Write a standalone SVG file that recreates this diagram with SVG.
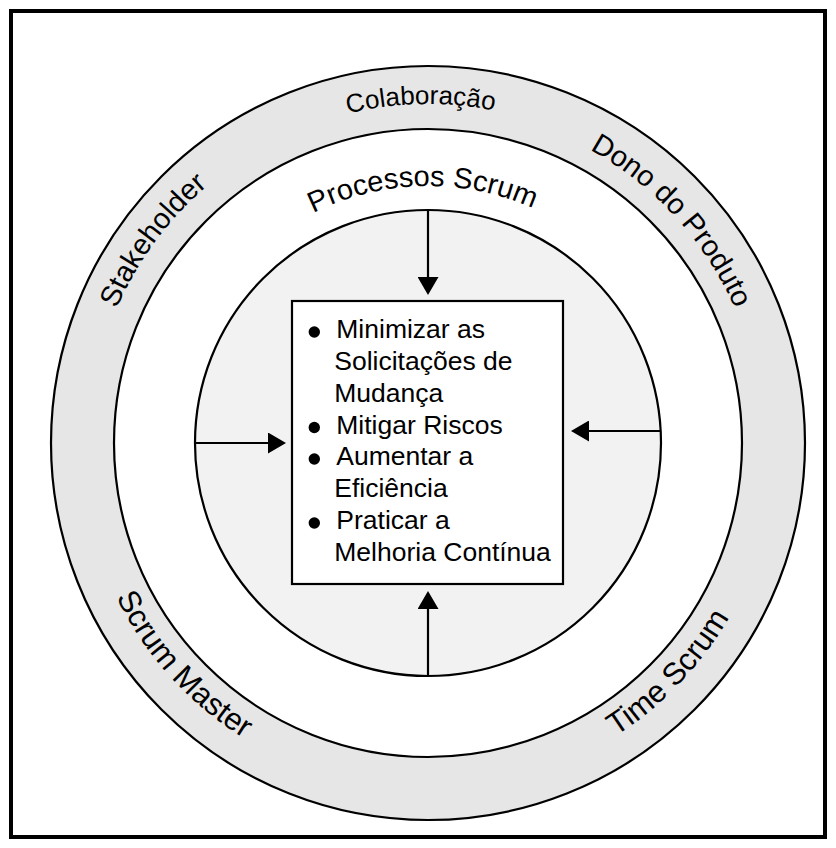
<svg xmlns="http://www.w3.org/2000/svg" width="836" height="848" viewBox="0 0 836 848">
  <style>
    .ring { stroke: #000; stroke-width: 2.2; }
    .lbl { font-family: "Liberation Sans", Arial, sans-serif; fill: #000; text-anchor: middle; }
    .item { font-family: "Liberation Sans", Arial, sans-serif; font-size: 26.5px; fill: #000; }
    .conn { stroke: #000; stroke-width: 2.2; fill: none; }
  </style>
  <defs>
    <path id="cw339" d="M428,782 A339,339 0 0 1 428,104 A339,339 0 0 1 428,782" fill="none"/>
    <path id="cw335" d="M428,778 A335,335 0 0 1 428,108 A335,335 0 0 1 428,778" fill="none"/>
    <path id="cw257" d="M428,700 A257,257 0 0 1 428,186 A257,257 0 0 1 428,700" fill="none"/>
    <path id="ccw348" d="M428,95 A348,348 0 0 0 428,791 A348,348 0 0 0 428,95" fill="none"/>
    <marker id="ah" viewBox="0 0 18 21" refX="1" refY="10.5" markerWidth="18" markerHeight="21" markerUnits="userSpaceOnUse" orient="auto">
      <path d="M0,0 L18,10.5 L0,21 Z" fill="#000"/>
    </marker>
  </defs>

  <rect id="frame" x="11" y="11" width="814" height="826" fill="#fff" stroke="#000" stroke-width="4"/>

  <g id="outer-ring">
    <circle class="ring" cx="428" cy="443" r="377" fill="#e6e6e6"/>
  </g>
  <g id="middle-ring">
    <circle class="ring" cx="428" cy="443" r="314" fill="#fff"/>
  </g>
  <g id="inner-circle">
    <circle class="ring" cx="428" cy="443" r="233" fill="#f2f2f2"/>
  </g>

  <g id="label-colaboracao">
    <text class="lbl" font-size="26" transform="rotate(-1.2 428 443)"><textPath href="#cw339" startOffset="50%">Colaboração</textPath></text>
  </g>
  <g id="label-stakeholder">
    <text class="lbl" font-size="29" transform="rotate(-53.6 428 443)"><textPath href="#cw339" startOffset="50%">Stakeholder</textPath></text>
  </g>
  <g id="label-dono">
    <text class="lbl" font-size="29" transform="rotate(47.6 428 443)"><textPath href="#cw335" startOffset="50%">Dono do Produto</textPath></text>
  </g>
  <g id="label-scrum-master">
    <text class="lbl" font-size="31" transform="rotate(47.8 428 443)"><textPath href="#ccw348" startOffset="50%">Scrum Master</textPath></text>
  </g>
  <g id="label-time-scrum">
    <text class="lbl" font-size="31" transform="rotate(-46.3 428 443)"><textPath href="#ccw348" startOffset="50%">Time Scrum</textPath></text>
  </g>
  <g id="label-processos">
    <text class="lbl" font-size="29" transform="rotate(-1.2 428 443)"><textPath href="#cw257" startOffset="50%">Processos Scrum</textPath></text>
  </g>

  <g id="goals-box">
    <rect x="292" y="301" width="271" height="283" fill="#fff" stroke="#000" stroke-width="2.2"/>
    <circle cx="314.3" cy="332" r="5.7" fill="#000"/>
    <circle cx="314.3" cy="427.5" r="5.7" fill="#000"/>
    <circle cx="314.3" cy="459" r="5.7" fill="#000"/>
    <circle cx="314.3" cy="523" r="5.7" fill="#000"/>
    <text class="item" x="336.3" y="338">Minimizar as</text>
    <text class="item" x="334.3" y="370">Solicitações de</text>
    <text class="item" x="334.3" y="401.5">Mudança</text>
    <text class="item" x="336.3" y="433.5">Mitigar Riscos</text>
    <text class="item" x="336.3" y="465">Aumentar a</text>
    <text class="item" x="334.3" y="497">Eficiência</text>
    <text class="item" x="336.3" y="529">Praticar a</text>
    <text class="item" x="334.3" y="561">Melhoria Contínua</text>
  </g>

  <g id="connectors">
    <line class="conn" x1="428" y1="211" x2="428" y2="278" marker-end="url(#ah)"/>
    <line class="conn" x1="428" y1="676" x2="428" y2="608" marker-end="url(#ah)"/>
    <line class="conn" x1="195" y1="443" x2="269" y2="443" marker-end="url(#ah)"/>
    <line class="conn" x1="661" y1="431" x2="588" y2="431" marker-end="url(#ah)"/>
  </g>
</svg>
